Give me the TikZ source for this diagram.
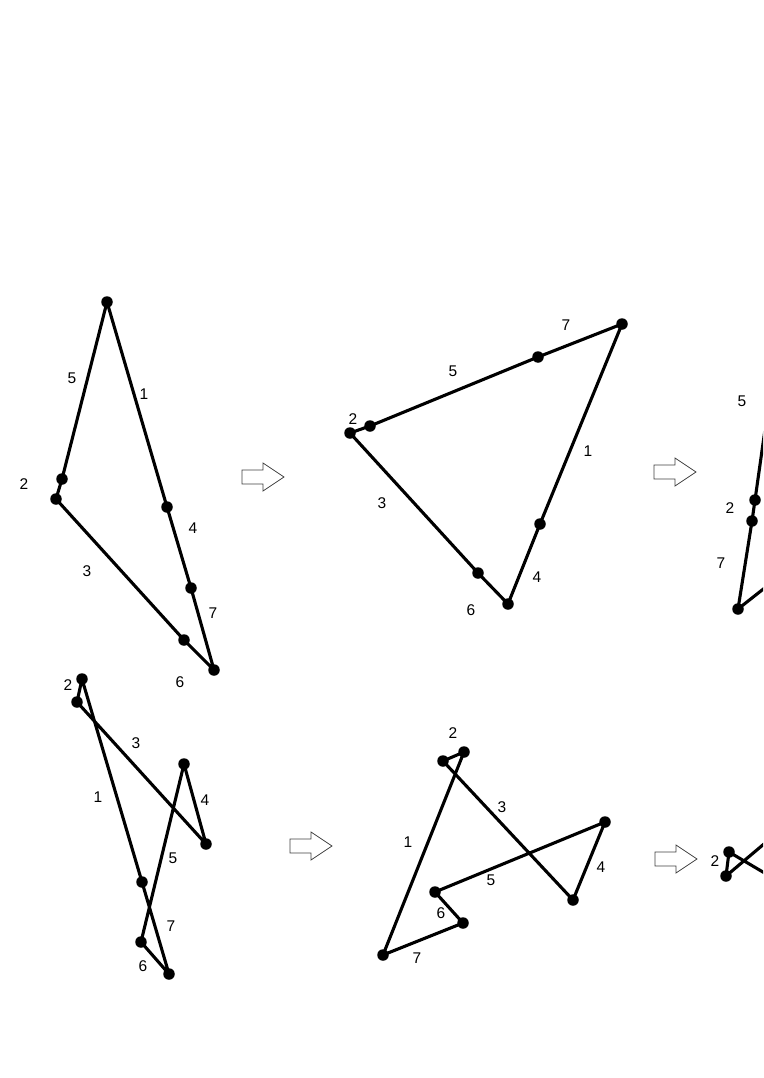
\documentclass[tikz,border=0pt]{standalone}
\usepackage{fontspec}
\setmainfont{Liberation Sans}
\begin{document}
\begin{tikzpicture}[x=1pt,y=-1pt,
  dot/.style={circle,fill=black,inner sep=0pt,minimum size=11.5pt},
  edge/.style={line width=3.1pt,line join=round,line cap=round},
  lbl/.style={inner sep=0pt,font=\fontsize{15.5}{17}\selectfont},
  arrowline/.style={draw=black!75,line width=0.8pt,fill=white},
  blockarrow/.pic={\path[arrowline] (0,-7) -- (21,-7) -- (21,-14) -- (42,0) -- (21,14) -- (21,7) -- (0,7) -- cycle;}]
\useasboundingbox (0,0) rectangle (763,1078);
\clip (0,0) rectangle (763,1078);
% ---------- figure 1 ----------
\node[dot] (a1) at (107,302) {};
\node[dot] (a2) at (62,479) {};
\node[dot] (a3) at (56,499) {};
\node[dot] (a4) at (184,640) {};
\node[dot] (a5) at (214,670) {};
\node[dot] (a6) at (191,588) {};
\node[dot] (a7) at (167,507) {};
\draw[edge] (a1.center) -- (a2.center) -- (a3.center) -- (a4.center) -- (a5.center) -- (a6.center) -- (a7.center) -- cycle;
\node[lbl] (la5) at (72,378) {5};
\node[lbl] (la1) at (144,394) {1};
\node[lbl] (la2) at (24,484) {2};
\node[lbl] (la4) at (193,528) {4};
\node[lbl] (la3) at (87,571) {3};
\node[lbl] (la7) at (213,613) {7};
\node[lbl] (la6) at (180,682) {6};
% ---------- figure 2 ----------
\node[dot] (b1) at (622,324) {};
\node[dot] (b2) at (538,357) {};
\node[dot] (b3) at (370,426) {};
\node[dot] (b4) at (350,433) {};
\node[dot] (b5) at (478,573) {};
\node[dot] (b6) at (508,604) {};
\node[dot] (b7) at (540,524) {};
\draw[edge] (b1.center) -- (b2.center) -- (b3.center) -- (b4.center) -- (b5.center) -- (b6.center) -- (b7.center) -- cycle;
\node[lbl] (lb7) at (566,325) {7};
\node[lbl] (lb5) at (453,371) {5};
\node[lbl] (lb2) at (353,419) {2};
\node[lbl] (lb1) at (588,451) {1};
\node[lbl] (lb3) at (382,503) {3};
\node[lbl] (lb4) at (537,577) {4};
\node[lbl] (lb6) at (471,610) {6};
% ---------- figure 3 (cut off) ----------
\coordinate (c0) at (772,380);
\node[dot] (c1) at (755,500) {};
\node[dot] (c2) at (752,521) {};
\node[dot] (c3) at (738,609) {};
\coordinate (c4) at (790,568);
\draw[edge] (c0) -- (c1.center) -- (c2.center) -- (c3.center) -- (c4);
\node[lbl] (lc5) at (742,401) {5};
\node[lbl] (lc2) at (730,508) {2};
\node[lbl] (lc7) at (721,563) {7};
% ---------- figure 4 ----------
\node[dot] (d1) at (82,679) {};
\node[dot] (d2) at (77,702) {};
\node[dot] (d3) at (206,844) {};
\node[dot] (d4) at (184,764) {};
\node[dot] (d5) at (141,942) {};
\node[dot] (d6) at (169,974) {};
\node[dot] (d7) at (142,882) {};
\draw[edge] (d1.center) -- (d2.center) -- (d3.center) -- (d4.center) -- (d5.center) -- (d6.center) -- (d7.center) -- cycle;
\node[lbl] (ld2) at (68,685) {2};
\node[lbl] (ld3) at (136,743) {3};
\node[lbl] (ld1) at (98,797) {1};
\node[lbl] (ld4) at (205,800) {4};
\node[lbl] (ld5) at (173,858) {5};
\node[lbl] (ld7) at (171,926) {7};
\node[lbl] (ld6) at (143,966) {6};
% ---------- figure 5 ----------
\node[dot] (e1) at (464,752) {};
\node[dot] (e2) at (443,761) {};
\node[dot] (e3) at (573,900) {};
\node[dot] (e4) at (605,822) {};
\node[dot] (e5) at (435,892) {};
\node[dot] (e6) at (463,923) {};
\node[dot] (e7) at (383,955) {};
\draw[edge] (e1.center) -- (e2.center) -- (e3.center) -- (e4.center) -- (e5.center) -- (e6.center) -- (e7.center) -- cycle;
\node[lbl] (le2) at (453,733) {2};
\node[lbl] (le3) at (502,807) {3};
\node[lbl] (le1) at (408,842) {1};
\node[lbl] (le4) at (601,867) {4};
\node[lbl] (le5) at (491,880) {5};
\node[lbl] (le6) at (441,913) {6};
\node[lbl] (le7) at (417,958) {7};
% ---------- figure 6 (cut off) ----------
\node[dot] (f1) at (729,852) {};
\node[dot] (f2) at (726,876) {};
\coordinate (f3) at (790,888);
\coordinate (f4) at (790,822);
\draw[edge] (f3) -- (f1.center) -- (f2.center) -- (f4);
\node[lbl] (lf2) at (715,861) {2};
% ---------- arrows ----------
\pic (ar1) at (242,477) {blockarrow};
\pic (ar2) at (654,472) {blockarrow};
\pic (ar3) at (290,846) {blockarrow};
\pic (ar4) at (655,859) {blockarrow};
\end{tikzpicture}
\end{document}
